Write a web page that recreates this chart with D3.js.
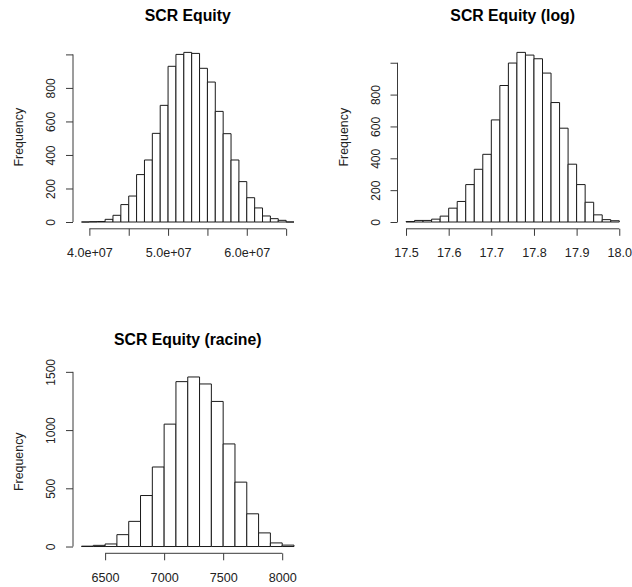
<!DOCTYPE html>
<html><head><meta charset="utf-8">
<script src="https://cdn.jsdelivr.net/npm/d3@7"></script>
<style>
body{margin:0;background:#fff}
svg{display:block}
text{font-family:"Liberation Sans",Arial,Helvetica,sans-serif}
</style>
</head><body>
<svg id="chart" width="632" height="587"></svg>
<script>
// ---- data ----
const titles = ["SCR Equity", "SCR Equity (log)", "SCR Equity (racine)"];
const yAxisTitle = "Frequency";

const breaks1 = [39e6,40e6,41e6,42e6,43e6,44e6,45e6,46e6,47e6,48e6,49e6,50e6,51e6,52e6,53e6,54e6,55e6,56e6,57e6,58e6,59e6,60e6,61e6,62e6,63e6,64e6,65e6,66e6];
const counts1 = [0,2,3,16,40,104,155,283,370,529,696,929,1000,1012,1006,917,835,660,527,370,241,145,84,36,20,10,0];
const xTicks1 = [40e6,45e6,50e6,55e6,60e6,65e6];
const xLabels1 = ["4.0e+07","","5.0e+07","","6.0e+07",""];
const yTicks1 = [0,200,400,600,800,1000];
const yLabels1 = ["0","200","400","600","800",""];

const breaks2 = [17.50,17.52,17.54,17.56,17.58,17.60,17.62,17.64,17.66,17.68,17.70,17.72,17.74,17.76,17.78,17.80,17.82,17.84,17.86,17.88,17.90,17.92,17.94,17.96,17.98,18.00];
const counts2 = [3,10,10,18,37,87,129,235,331,425,641,857,998,1065,1048,1025,935,750,589,363,235,124,45,15,8];
const xTicks2 = [17.5,17.6,17.7,17.8,17.9,18.0];
const xLabels2 = ["17.5","17.6","17.7","17.8","17.9","18.0"];
const yTicks2 = [0,200,400,600,800,1000];
const yLabels2 = ["0","200","400","600","800",""];

const breaks3 = [6300,6400,6500,6600,6700,6800,6900,7000,7100,7200,7300,7400,7500,7600,7700,7800,7900,8000,8100];
const counts3 = [3,10,22,102,216,438,683,1051,1416,1456,1396,1246,881,553,281,117,31,12];
const xTicks3 = [6500,7000,7500,8000];
const xLabels3 = ["6500","7000","7500","8000"];
const yTicks3 = [0,500,1000,1500];
const yLabels3 = ["0","500","1000","1500"];

// ---- layout ----
const panels = [
  {title: titles[0], breaks: breaks1, counts: counts1, xt: xTicks1, xl: xLabels1, yt: yTicks1, yl: yLabels1,
   box: {l: 73, r: 302.5, t: 45.6, b: 228.8}},
  {title: titles[1], breaks: breaks2, counts: counts2, xt: xTicks2, xl: xLabels2, yt: yTicks2, yl: yLabels2,
   box: {l: 397.5, r: 627.8, t: 45.6, b: 228.8}},
  {title: titles[2], breaks: breaks3, counts: counts3, xt: xTicks3, xl: xLabels3, yt: yTicks3, yl: yLabels3,
   box: {l: 73, r: 302.5, t: 370.2, b: 553.3}}
];

const svg = d3.select("#chart");
const axisColor = "#3a3a3a";
const xTickFont = 12.6;
const yTickFont = 12;

panels.forEach(p => {
  const bx = p.box;
  const b0 = p.breaks[0], b1 = p.breaks[p.breaks.length - 1];
  const xr = b1 - b0;
  const x = d3.scaleLinear().domain([b0 - 0.04 * xr, b1 + 0.04 * xr]).range([bx.l, bx.r]);
  const ymax = d3.max(p.counts);
  const y = d3.scaleLinear().domain([-0.04 * ymax, 1.04 * ymax]).range([bx.b, bx.t]);

  const g = svg.append("g");

  // bars
  const bins = p.counts.map((c, i) => ({x0: p.breaks[i], x1: p.breaks[i + 1], c}));
  g.append("g").selectAll("path").data(bins).join("path")
    .attr("d", d => `M${x(d.x0)},${y(0)}V${y(d.c)}H${x(d.x1)}V${y(0)}Z`)
    .attr("fill", "#fff")
    .attr("stroke", "#1a1a1a")
    .attr("stroke-width", 1);

  // x axis
  const xa = g.append("g").attr("transform", `translate(0,${bx.b})`)
    .call(d3.axisBottom(x).tickValues(p.xt).tickSize(7)
      .tickFormat((d, i) => p.xl[i]));
  xa.select(".domain").remove();
  xa.append("line")
    .attr("x1", x(p.xt[0])).attr("x2", x(p.xt[p.xt.length - 1]))
    .attr("y1", 0).attr("y2", 0)
    .attr("stroke", axisColor);
  xa.selectAll(".tick line").attr("stroke", axisColor);
  xa.selectAll(".tick text")
    .attr("y", 28.5).attr("dy", 0)
    .attr("font-size", xTickFont)
    .attr("font-family", "Liberation Sans, Arial, sans-serif")
    .attr("fill", "#222");

  // y axis
  const ya = g.append("g").attr("transform", `translate(${bx.l},0)`)
    .call(d3.axisLeft(y).tickValues(p.yt).tickSize(7)
      .tickFormat((d, i) => p.yl[i]));
  ya.select(".domain").remove();
  ya.append("line")
    .attr("x1", 0).attr("x2", 0)
    .attr("y1", y(p.yt[0])).attr("y2", y(p.yt[p.yt.length - 1]))
    .attr("stroke", axisColor);
  ya.selectAll(".tick line").attr("stroke", axisColor);
  ya.selectAll(".tick text")
    .attr("transform", "rotate(-90)")
    .attr("x", 0).attr("y", -18).attr("dy", 0)
    .attr("text-anchor", "middle")
    .attr("font-size", yTickFont)
    .attr("font-family", "Liberation Sans, Arial, sans-serif")
    .attr("fill", "#222");

  // y axis title
  const cy = (bx.t + bx.b) / 2;
  g.append("text")
    .attr("transform", `translate(${bx.l - 50},${cy}) rotate(-90)`)
    .attr("text-anchor", "middle")
    .attr("font-size", 12.4)
    .attr("fill", "#222")
    .text(yAxisTitle);

  // title
  g.append("text")
    .attr("x", (bx.l + bx.r) / 2)
    .attr("y", bx.t - 25)
    .attr("text-anchor", "middle")
    .attr("font-size", 15.8)
    .attr("font-weight", "bold")
    .attr("fill", "#000")
    .text(p.title);
});
</script>
</body></html>
